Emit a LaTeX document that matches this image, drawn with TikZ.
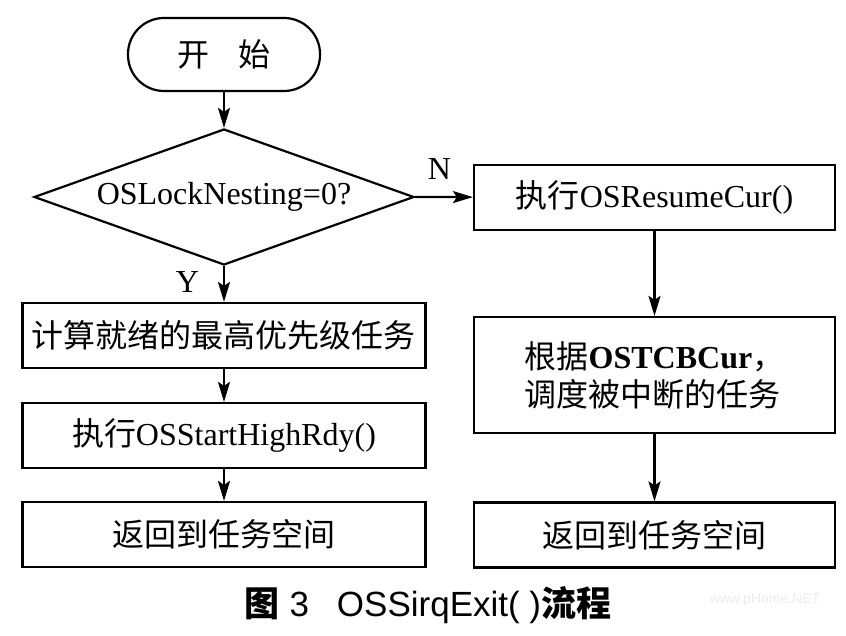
\documentclass[tikz,border=0pt]{standalone}
\usepackage{fontspec}
\setmainfont{Liberation Serif}
\newfontfamily\cjk{Noto Sans CJK SC}
\newfontfamily\capfont{Liberation Sans}
\usetikzlibrary{arrows.meta,shapes.geometric}
\begin{document}
\begin{tikzpicture}[x=0.5pt, y=-0.5pt,
  every node/.style={font=\fontsize{16}{19}\selectfont, inner sep=0pt},
  box/.style={draw, line width=1.1pt, minimum width=201.5pt, minimum height=32.5pt},
  rbox/.style={box, minimum width=180.5pt},
  flow/.style={line width=1.1pt, -{Stealth[length=10pt, width=6pt, inset=2pt]}}]
\useasboundingbox (0,0) rectangle (846,636);
\node[draw, line width=1.1pt, rounded corners=18pt, minimum width=96pt, minimum height=36.5pt] (start) at (224,54.5) {{\cjk 开\hspace{0.9em}始}};
\node[draw, line width=1.1pt, diamond, aspect=2.8, minimum width=190pt, minimum height=68pt] (dec) at (224,197) {OSLockNesting=0?};
\node[box] (calc) at (224,335.5) {{\cjk 计算就绪的最高优先级任务}};
\node[box] (run) at (224,435.5) {{\cjk 执行}OSStartHighRdy()};
\node[box] (retl) at (224,534.5) {{\cjk 返回到任务空间}};
\node[rbox] (resume) at (654.5,197.5) {{\cjk 执行}OSResumeCur()};
\node[rbox, minimum height=58pt, align=left] (sched) at (654.5,375) {{\cjk 根据}\textbf{OSTCBCur}{\cjk ，}\\{\cjk 调度被中断的任务}};
\node[rbox] (retr) at (654.5,535) {{\cjk 返回到任务空间}};
\draw[flow] (start) -- (dec);
\draw[flow] (dec.south) -- (calc) node [pos=0.45, left, xshift=-12pt] {Y};
\draw[flow] (dec.east) -- (resume) node [pos=0.42, above, yshift=8pt] {N};
\draw[flow] (calc) -- (run);
\draw[flow] (run) -- (retl);
\draw[flow] (resume) -- (sched);
\draw[flow] (sched) -- (retr);
\node[font=\capfont\fontsize{17.5}{20}\selectfont] (caption) at (428,605) {{\cjk\bfseries 图} 3\hspace{0.8em}OSSirqExit(\ ){\cjk\bfseries 流程}};
\node[font=\capfont\fontsize{7}{8}\selectfont, text=black!8] (mark) at (765,600) {www.pHome.NET};
\end{tikzpicture}
\end{document}
